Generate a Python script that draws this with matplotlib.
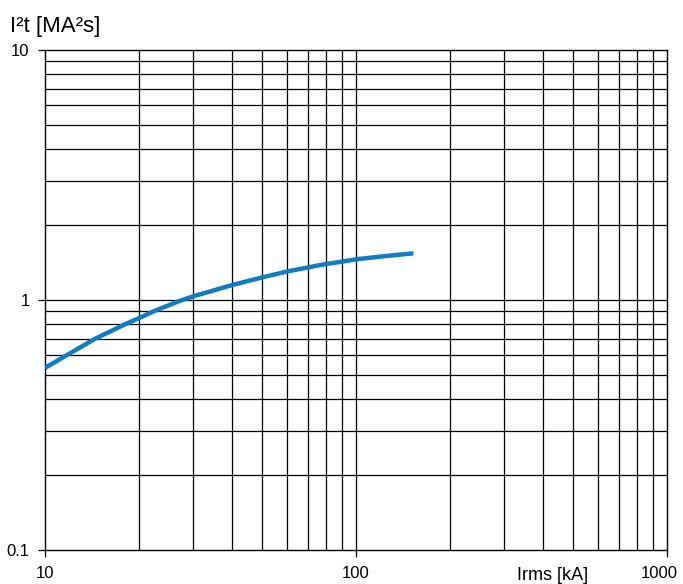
import matplotlib
matplotlib.use("Agg")
import matplotlib.pyplot as plt
import matplotlib.transforms as mtransforms
from matplotlib.ticker import FixedLocator, NullLocator

irms_ka = [10, 11.7, 14.5, 18.1, 20, 22.3, 27, 30, 40, 50, 60, 70, 80, 90, 100, 125, 153]
i2t_ma2s = [0.535, 0.6, 0.7, 0.8, 0.845, 0.9, 0.99, 1.035, 1.148, 1.232, 1.30, 1.35,
            1.393, 1.423, 1.455, 1.5, 1.537]

x_major = [10, 100, 1000]
x_labels = ["10", "100", "1000"]
y_major = [0.1, 1, 10]
y_labels = ["0.1", "1", "10"]

plt.rcParams['font.family'] = ['Liberation Sans', 'DejaVu Sans']

fig = plt.figure(figsize=(6.83, 5.84), dpi=100)
ax = fig.add_axes([45/683, 1 - 550/584, (667-45)/683, 500/584])
ax.set_xscale('log')
ax.set_yscale('log')
ax.set_xlim(10, 1000)
ax.set_ylim(0.1, 10)

# grid lines
xminor = [m * d for d in (10, 100) for m in range(2, 10)] + [100]
yminor = [m * d for d in (0.1, 1) for m in range(2, 10)] + [1]
for xv in xminor:
    ax.axvline(xv, color='black', lw=0.9, zorder=1)
for yv in yminor:
    ax.axhline(yv, color='black', lw=0.9, zorder=1)

ax.plot(irms_ka, i2t_ma2s, color='#0E7DC2', lw=3.2, solid_capstyle='butt',
        solid_joinstyle='round', zorder=3)

ax.xaxis.set_major_locator(FixedLocator(x_major))
ax.yaxis.set_major_locator(FixedLocator(y_major))
ax.xaxis.set_minor_locator(NullLocator())
ax.yaxis.set_minor_locator(NullLocator())
ax.set_xticklabels(x_labels)
ax.set_yticklabels(y_labels)
ax.tick_params(axis='both', which='major', length=5, width=0.9, direction='out',
               labelsize=12, colors='black')
ax.tick_params(axis='x', pad=6.5)
ax.tick_params(axis='y', pad=6)
for s in ax.spines.values():
    s.set_linewidth(1.0)
    s.set_color('black')

# shift last x tick label left so it fits inside the figure
lbl = ax.get_xticklabels()[-1]
lbl.set_ha('right')
lbl.set_transform(lbl.get_transform() + mtransforms.ScaledTranslation(11/100, 0, fig.dpi_scale_trans))

fig.text(10/683, 1 - 32/584, "I²t [MA²s]", fontsize=16, va='baseline', ha='left')
fig.text(553/683, 1 - 575/584, "Irms [kA]", fontsize=13, va='center', ha='center')

fig.savefig("out.png", dpi=100)
